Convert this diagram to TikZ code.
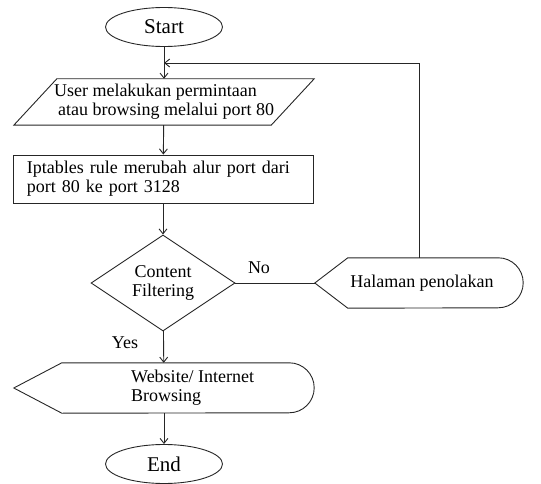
\documentclass[tikz,border=0pt]{standalone}
\usepackage{fontspec}
\setmainfont{Liberation Serif}
\usetikzlibrary{positioning, shapes.geometric, arrows.meta}
\newcommand{\displayshape}[2]{%
  \draw[outline] (#1.west) -- ([xshift=#2]#1.north west) -- ([xshift=-25pt]#1.north east)
    arc[start angle=90, end angle=-90, radius=25pt] -- ([xshift=#2]#1.south west) -- cycle;}
\newcommand{\slantshape}[2]{%
  \draw[outline] ([xshift=#2]#1.north west) -- ([xshift=#2]#1.north east)
    -- ([xshift=-#2]#1.south east) -- ([xshift=-#2]#1.south west) -- cycle;}

\begin{document}
\begin{tikzpicture}[x=1pt, y=-1pt, every node/.style={font=\fontsize{18}{19}\selectfont}]
  % Styles
  \tikzset{
    outline/.style = {draw=black!85, line width=0.9pt},
    terminal/.style = {outline, shape=ellipse, minimum width=117pt, minimum height=39pt, inner sep=0pt, font=\fontsize{21}{22}\selectfont},
    inputbox/.style = {shape=rectangle, minimum width=257pt, minimum height=46pt, inner sep=0pt, align=left},
    process/.style = {outline, shape=rectangle, minimum width=300pt, minimum height=48pt, text width=272pt, inner xsep=14pt, align=left},
    decision/.style = {outline, shape=diamond, aspect=1.5, minimum width=144pt, minimum height=96pt, inner sep=0pt, align=center},
    display/.style = {shape=rectangle, minimum height=50pt, inner sep=0pt, align=left},
    link/.style = {draw=black!85, line width=0.9pt, -{Straight Barb[length=5pt, width=8pt]}},
    line/.style = {draw=black!85, line width=0.9pt}
  }
  \useasboundingbox (0,0) rectangle (541,484);

  % Nodes
  \node[terminal] (Start) at (164,27) {Start};
  \node[inputbox] (Request) at (164,102) {User melakukan permintaan\\\hspace*{4pt}atau browsing melalui port 80};
  \node[process] (Rule) at (163,179) {Iptables rule merubah alur port dari\\port 80 ke port 3128};
  \node[decision] (Filter) at (163,283) {Content\\Filtering};
  \node[display, minimum width=208pt] (Reject) at (419,283) {\hspace*{6pt}Halaman penolakan};
  \node[display, minimum width=300pt] (Website) at (164,388) {};
  \node[display, anchor=west] (WebsiteText) at ([xshift=-33pt]Website.center) {Website/ Internet\\Browsing};
  \node[terminal] (End) at (164,464) {End};

  % Outlines
  \slantshape{Request}{21.5pt}
  \displayshape{Reject}{33pt}
  \displayshape{Website}{48pt}

  % Labels
  \node (No) at (259,268) {No};
  \node (Yes) at (125,343) {Yes};

  % Connections
  \coordinate (Join) at (Start.south |- 0,63);
  \draw[link] (Start) -- (Request);
  \draw[link] (Request) -- (Rule);
  \draw[link] (Rule) -- (Filter);
  \draw[line] (Filter.east) -- (Reject.west);
  \draw[link] (Reject.north) |- (Join);
  \draw[link] (Filter) -- (Website);
  \draw[link] (Website) -- (End);

\end{tikzpicture}
\end{document}
